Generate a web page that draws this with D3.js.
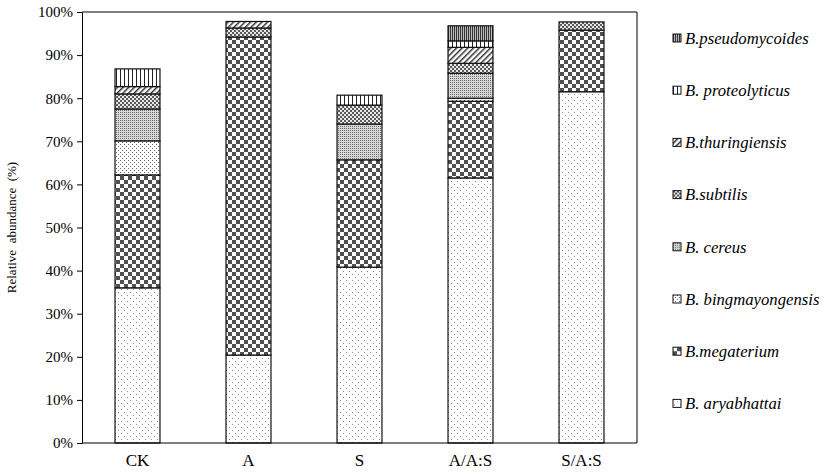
<!DOCTYPE html>
<html>
<head>
<meta charset="utf-8">
<script src="https://cdn.jsdelivr.net/npm/d3@7"></script>
<style>
  body { margin: 0; background: #fff; }
  svg { display: block; }
  svg text { font-family: 'Liberation Serif', 'Times New Roman', 'DejaVu Serif', serif; }
  .axis path, .axis line { stroke: #000; }
</style>
</head>
<body>
<svg id="chart" width="827" height="474"></svg>
<script>
(function () {
  'use strict';

  // groups on the x axis
  var groups = ['CK', 'A', 'S', 'A/A:S', 'S/A:S'];

  // species, bottom of the stack first
  var species = ['aryabhattai', 'megaterium', 'bingmayongensis', 'cereus',
    'subtilis', 'thuringiensis', 'proteolyticus', 'pseudomycoides'];
  var speciesLabels = ['B. aryabhattai', 'B.megaterium', 'B. bingmayongensis', 'B. cereus',
    'B.subtilis', 'B.thuringiensis', 'B. proteolyticus', 'B.pseudomycoides'];

  // relative abundance (%) per species, one value per group
  var aryabhattai     = [36.0, 20.4, 40.8, 61.5, 81.5];
  var megaterium      = [26.2, 73.8, 24.9, 17.8, 14.3];
  var bingmayongensis = [7.9, 0, 0, 0.7, 0];
  var cereus          = [7.4, 0, 8.3, 5.8, 0];
  var subtilis        = [3.5, 2.1, 4.4, 2.3, 1.9];
  var thuringiensis   = [1.7, 1.5, 0, 3.7, 0];
  var proteolyticus   = [4.1, 0, 2.3, 1.5, 0];
  var pseudomycoides  = [0, 0, 0, 3.5, 0];

  var yTicks = [0, 10, 20, 30, 40, 50, 60, 70, 80, 90, 100];

  var values = {
    aryabhattai: aryabhattai, megaterium: megaterium, bingmayongensis: bingmayongensis,
    cereus: cereus, subtilis: subtilis, thuringiensis: thuringiensis,
    proteolyticus: proteolyticus, pseudomycoides: pseudomycoides
  };

  var rows = groups.map(function (g, i) {
    var row = {group: g};
    species.forEach(function (s) { row[s] = values[s][i]; });
    return row;
  });

  var margin = {left: 82, right: 190, top: 12, bottom: 31};
  var width = 827, height = 474;
  var svg = d3.select('#chart');
  var serif = "'Liberation Serif', 'Times New Roman', 'DejaVu Serif', serif";

  // fill patterns, roughly like the office hatch fills
  var defs = svg.append('defs');
  function pattern(id, w, h) {
    var p = defs.append('pattern')
      .attr('id', id)
      .attr('patternUnits', 'userSpaceOnUse')
      .attr('width', w)
      .attr('height', h);
    p.append('rect').attr('width', w).attr('height', h).attr('fill', '#fff');
    return p;
  }

  var p;
  p = pattern('p-aryabhattai', 6, 6);
  p.append('rect').attr('x', 1).attr('y', 1).attr('width', 1).attr('height', 1).attr('fill', '#8a8a8a');
  p.append('rect').attr('x', 4).attr('y', 4).attr('width', 1).attr('height', 1).attr('fill', '#8a8a8a');

  p = pattern('p-megaterium', 8, 8);
  p.append('rect').attr('x', 0).attr('y', 0).attr('width', 4).attr('height', 4).attr('fill', '#505050');
  p.append('rect').attr('x', 4).attr('y', 4).attr('width', 4).attr('height', 4).attr('fill', '#505050');

  p = pattern('p-bingmayongensis', 4, 4);
  p.append('rect').attr('x', 0).attr('y', 0).attr('width', 1).attr('height', 1).attr('fill', '#666');
  p.append('rect').attr('x', 2).attr('y', 2).attr('width', 1).attr('height', 1).attr('fill', '#666');

  p = pattern('p-cereus', 2, 2);
  p.select('rect').attr('fill', '#d8d8d8');
  p.append('rect').attr('x', 0).attr('y', 0).attr('width', 1).attr('height', 1).attr('fill', '#6a6a6a');

  p = pattern('p-subtilis', 4, 4);
  p.select('rect').attr('fill', '#e6e6e6');
  p.append('rect').attr('x', 0).attr('y', 0).attr('width', 2).attr('height', 2).attr('fill', '#5a5a5a');
  p.append('rect').attr('x', 2).attr('y', 2).attr('width', 2).attr('height', 2).attr('fill', '#5a5a5a');

  p = pattern('p-thuringiensis', 4, 4).attr('patternTransform', 'rotate(45)');
  p.append('rect').attr('x', 0).attr('y', 0).attr('width', 1.5).attr('height', 4).attr('fill', '#333');

  p = pattern('p-proteolyticus', 4, 4);
  p.append('rect').attr('x', 0).attr('y', 0).attr('width', 1).attr('height', 4).attr('fill', '#222');

  p = pattern('p-pseudomycoides', 2, 2);
  p.select('rect').attr('fill', '#bbb');
  p.append('rect').attr('x', 0).attr('y', 0).attr('width', 1).attr('height', 2).attr('fill', '#333');

  var x = d3.scaleBand()
    .domain(groups)
    .range([margin.left, width - margin.right])
    .paddingInner(0.595)
    .paddingOuter(0.2975);

  var y = d3.scaleLinear()
    .domain([0, 100])
    .range([height - margin.bottom, margin.top]);

  var stack = d3.stack().keys(species);
  var layers = stack(rows);

  // plot frame (top and right sides)
  svg.append('path')
    .attr('d', 'M' + margin.left + ',' + y(100) + 'H' + (width - margin.right) + 'V' + y(0))
    .attr('fill', 'none')
    .attr('stroke', '#000')
    .attr('stroke-width', 1);

  svg.append('g')
    .selectAll('g')
    .data(layers)
    .enter()
    .append('g')
    .attr('fill', function (d) { return 'url(#p-' + d.key + ')'; })
    .selectAll('rect')
    .data(function (d) { return d.filter(function (v) { return v[1] - v[0] > 0; }); })
    .enter()
    .append('rect')
    .attr('x', function (d) { return x(d.data.group); })
    .attr('width', x.bandwidth())
    .attr('y', function (d) { return y(d[1]); })
    .attr('height', function (d) { return y(d[0]) - y(d[1]); })
    .attr('stroke', '#111')
    .attr('stroke-width', 1.2);

  var yAxis = d3.axisLeft(y)
    .tickValues(yTicks)
    .tickSize(5)
    .tickSizeOuter(0)
    .tickFormat(function (d) { return d + '%'; });

  var gy = svg.append('g')
    .attr('class', 'axis')
    .attr('transform', 'translate(' + margin.left + ',0)')
    .call(yAxis)
    .attr('font-family', serif);
  gy.selectAll('text')
    .attr('x', -9)
    .attr('font-size', 15)
    .attr('fill', '#000');

  var xAxis = d3.axisBottom(x).tickSize(0).tickSizeOuter(0);
  var gx = svg.append('g')
    .attr('class', 'axis')
    .attr('transform', 'translate(0,' + y(0) + ')')
    .call(xAxis)
    .attr('font-family', serif);
  gx.select('.domain').attr('d', 'M' + margin.left + ',0H' + (width - margin.right));
  gx.selectAll('text')
    .attr('y', 11)
    .attr('font-size', 17)
    .attr('fill', '#000');

  svg.append('text')
    .attr('transform', 'translate(16,' + ((y(0) + y(100)) / 2) + ') rotate(-90)')
    .attr('text-anchor', 'middle')
    .attr('font-size', 13)
    .attr('xml:space', 'preserve')
    .text('Relative  abundance  (%)');

  // legend, top entry is the top of the stack
  var legendOrder = species.slice().reverse();
  var legend = svg.append('g')
    .selectAll('g')
    .data(legendOrder)
    .enter()
    .append('g')
    .attr('transform', function (d, i) { return 'translate(673,' + (38 + i * 52.2) + ')'; });

  legend.append('rect')
    .attr('x', 0)
    .attr('y', -4)
    .attr('width', 8)
    .attr('height', 8)
    .attr('fill', function (d) { return 'url(#p-' + d + ')'; })
    .attr('stroke', '#111')
    .attr('stroke-width', 1);

  legend.append('text')
    .attr('x', 12)
    .attr('dy', '0.35em')
    .attr('font-size', 16.7)
    .attr('font-style', 'italic')
    .text(function (d) { return speciesLabels[species.indexOf(d)]; });
}());
</script>
</body>
</html>
